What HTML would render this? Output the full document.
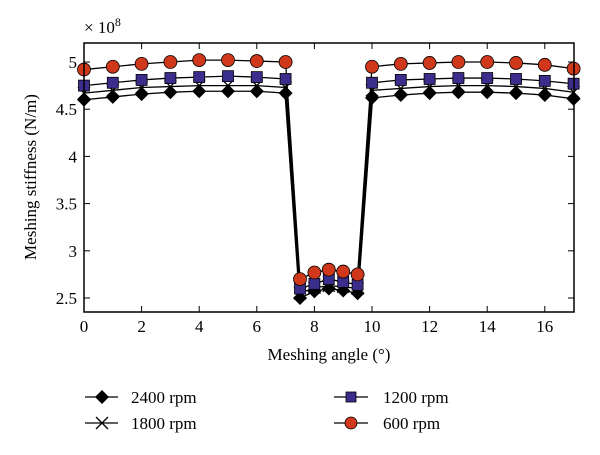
<!DOCTYPE html><html><head><style>body{margin:0;background:#fff}svg{display:block;font-family:"Liberation Serif",serif}</style></head><body>
<svg id="s" width="600" height="455" xmlns="http://www.w3.org/2000/svg">
<rect width="600" height="455" fill="#fff"/>
<g id="g"></g>
<rect x="84" y="43" width="490" height="269" fill="none" stroke="#000" stroke-width="1.5"/>
<text x="84" y="33" font-size="17">× 10<tspan dy="-7" font-size="12">8</tspan></text>
<text transform="translate(36,177) rotate(-90)" font-size="17" text-anchor="middle">Meshing stiffness (N/m)</text>
<text x="329" y="360" font-size="17" text-anchor="middle">Meshing angle (°)</text>
<g font-size="17">
<line x1="85" y1="397" x2="118" y2="397" stroke="#000" stroke-width="1.3"/><path d="M102 390L109 397L102 404L95 397Z" fill="#000"/><text x="131" y="403">2400 rpm</text>
<line x1="85" y1="423" x2="118" y2="423" stroke="#000" stroke-width="1.3"/><path d="M96 417L108 429M108 417L96 429" stroke="#000" stroke-width="1.3"/><text x="131" y="429">1800 rpm</text>
<line x1="334" y1="397" x2="368" y2="397" stroke="#000" stroke-width="1.3"/><rect x="346" y="392" width="10" height="10" fill="#3a2d8c" stroke="#000" stroke-width="0.8"/><text x="383" y="403">1200 rpm</text>
<line x1="334" y1="423" x2="368" y2="423" stroke="#000" stroke-width="1.3"/><circle cx="351" cy="423" r="6" fill="#d0381c" stroke="#000" stroke-width="0.8"/><text x="383" y="429">600 rpm</text>
</g>
</svg>
<script>
const g=document.getElementById('g');let h='';
const X=v=>84+v*28.8, Y=v=>298-(v-2.5)*94.4;
for(let t=0;t<=16;t+=2){h+=`<line x1="${X(t)}" y1="312" x2="${X(t)}" y2="306" stroke="#000"/><line x1="${X(t)}" y1="43" x2="${X(t)}" y2="49" stroke="#000"/><text x="${X(t)}" y="332" font-size="17" text-anchor="middle">${t}</text>`;}
for(let v=2.5;v<=5;v+=0.5){h+=`<line x1="84" y1="${Y(v)}" x2="90" y2="${Y(v)}" stroke="#000"/><line x1="574" y1="${Y(v)}" x2="568" y2="${Y(v)}" stroke="#000"/><text x="77" y="${Y(v)+6}" font-size="17" text-anchor="end">${v}</text>`;}
const xs=[0,1,2,3,4,5,6,7,7.5,8,8.5,9,9.5,10,11,12,13,14,15,16,17];
const S=[
['d',[4.60,4.63,4.66,4.68,4.69,4.69,4.69,4.67,2.50,2.57,2.60,2.58,2.55,4.62,4.65,4.67,4.68,4.68,4.67,4.65,4.61]],
['x',[4.67,4.70,4.73,4.74,4.75,4.75,4.75,4.73,2.55,2.61,2.63,2.62,2.60,4.70,4.72,4.74,4.75,4.75,4.74,4.72,4.68]],
['s',[4.75,4.78,4.81,4.83,4.84,4.85,4.84,4.82,2.60,2.65,2.70,2.67,2.64,4.78,4.81,4.82,4.83,4.83,4.82,4.80,4.77]],
['c',[4.92,4.95,4.98,5.0,5.02,5.02,5.01,5.0,2.70,2.77,2.80,2.78,2.75,4.95,4.98,4.99,5.0,5.0,4.99,4.97,4.93]]];
for(const [m,d] of S){h+=`<polyline fill="none" stroke="#000" stroke-width="1.3" points="${xs.map((x,i)=>X(x)+','+Y(d[i])).join(' ')}"/>`;}
h+=`<polyline fill="none" stroke="#000" stroke-width="2.5" points="${X(7)},${Y(4.67)} ${X(7.5)},${Y(2.5)}"/><polyline fill="none" stroke="#000" stroke-width="2.5" points="${X(9.5)},${Y(2.55)} ${X(10)},${Y(4.62)}"/>`;
for(const [m,d] of S){xs.forEach((x,i)=>{const a=X(x),b=Y(d[i]);
if(m=='d')h+=`<path d="M${a} ${b-7}L${a+7} ${b}L${a} ${b+7}L${a-7} ${b}Z" fill="#000"/>`;
if(m=='x')h+=`<path d="M${a-6} ${b-6}L${a+6} ${b+6}M${a+6} ${b-6}L${a-6} ${b+6}" stroke="#000" stroke-width="1.3"/>`;
if(m=='s')h+=`<rect x="${a-5.5}" y="${b-5.5}" width="11" height="11" fill="#3a2d8c" stroke="#000" stroke-width="0.8"/>`;
if(m=='c')h+=`<circle cx="${a}" cy="${b}" r="6.5" fill="#d0381c" stroke="#000" stroke-width="0.8"/>`;});}
g.innerHTML=h;
</script></body></html>
